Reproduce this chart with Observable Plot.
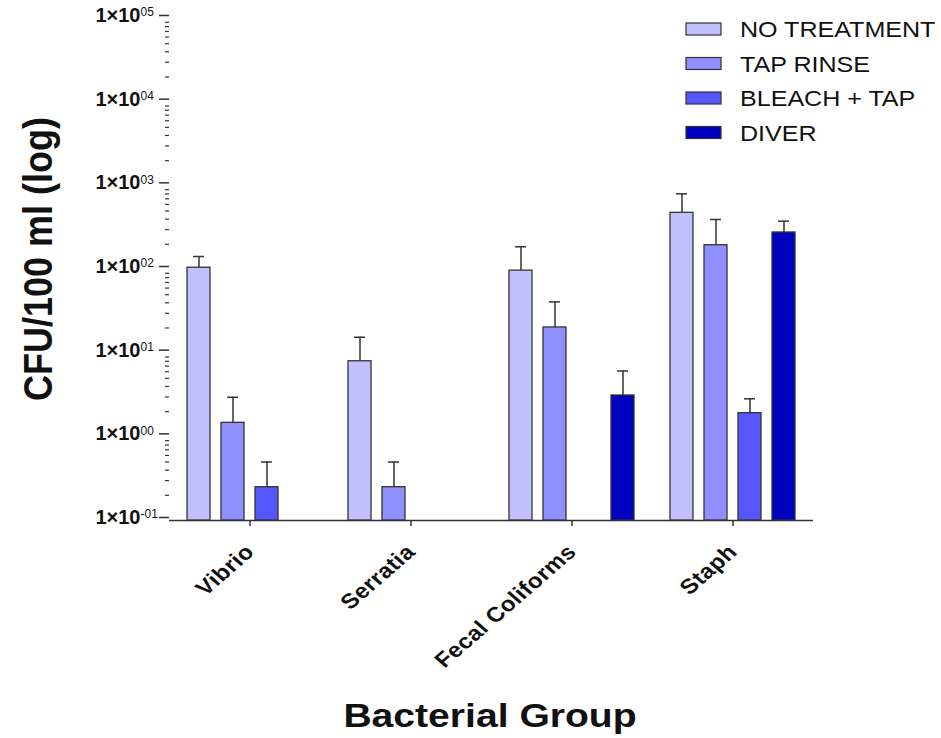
<!DOCTYPE html>
<html>
<head>
<meta charset="utf-8">
<script src="https://cdn.jsdelivr.net/npm/d3@7"></script>
<script src="https://cdn.jsdelivr.net/npm/@observablehq/plot@0.6"></script>
<style>
  body { margin: 0; background: #fff; }
  #wrap { position: relative; width: 941px; height: 738px; font-family: "Liberation Sans", Arial, sans-serif; }
</style>
</head>
<body>
<div id="wrap"></div>
<script>
// ---- data ----
const groups = ["Vibrio", "Serratia", "Fecal Coliforms", "Staph"];
const treatments = ["NO TREATMENT", "TAP RINSE", "BLEACH + TAP", "DIVER"];
const colors = ["#c0c0ff", "#8f8fff", "#5656ff", "#0000c0"];

const noTreatment    = [105, 8.0, 97, 476];
const noTreatmentErr = [38, 7.5, 90, 326];
const tapRinse       = [1.47, 0.25, 20.3, 195];
const tapRinseErr    = [1.5, 0.25, 20.7, 201];
const bleachTap      = [0.25, null, null, 1.92];
const bleachTapErr   = [0.25, null, null, 0.93];
const diver          = [null, null, 3.12, 277];
const diverErr       = [null, null, 3.0, 101];

const decadeTicks = [0.1, 1, 10, 100, 1000, 10000, 100000];
const exponentLabels = ["-01", "00", "01", "02", "03", "04", "05"];

// ---- build table ----
const series = [[noTreatment, noTreatmentErr], [tapRinse, tapRinseErr], [bleachTap, bleachTapErr], [diver, diverErr]];
const rows = [];
treatments.forEach((t, i) => {
  groups.forEach((g, j) => {
    const v = series[i][0][j];
    if (v != null) rows.push({group: g, treatment: t, value: v, err: series[i][1][j]});
  });
});
const expMap = new Map(decadeTicks.map((d, i) => [d, exponentLabels[i]]));
const minorTicks = [];
decadeTicks.slice(0, -1).forEach(d => { for (let k = 2; k <= 9; k++) minorTicks.push(d * k); });

const ink = "#333";
const plot = Plot.plot({
  width: 941,
  height: 738,
  marginLeft: 168,
  marginRight: 127,
  marginTop: 18,
  marginBottom: 218,
  style: {fontFamily: "'Liberation Sans', Arial, sans-serif", background: "white", color: "#111"},
  fx: {domain: groups, padding: 0, label: null},
  x: {domain: treatments, paddingInner: 0.333, paddingOuter: 0.507, axis: null},
  y: {type: "log", domain: [0.1, 1e5], label: null},
  color: {domain: treatments, range: colors},
  marks: [
    Plot.ruleY([0.1], {stroke: ink, strokeWidth: 1.5}),
    Plot.ruleX(rows, {fx: "group", x: "treatment", y1: "value", y2: d => d.value + d.err, stroke: ink, strokeWidth: 1.5}),
    Plot.tickY(rows, {fx: "group", x: "treatment", y: d => d.value + d.err, insetLeft: 6, insetRight: 6, stroke: ink, strokeWidth: 1.5}),
    Plot.barY(rows, {fx: "group", x: "treatment", y1: 0.1, y2: "value", fill: "treatment", stroke: ink, strokeWidth: 1.3}),
    Plot.axisY({ticks: minorTicks, tickSize: 4, tickFormat: () => "", label: null, stroke: ink, strokeWidth: 1.2}),
    Plot.axisY({ticks: decadeTicks, tickSize: 10, tickPadding: 19, tickFormat: () => "1×10", fontSize: 20, fontWeight: "bold", dy: -3, label: null, stroke: ink, strokeWidth: 1.5, line: true}),
    Plot.axisY({ticks: decadeTicks, tickSize: 0, tickPadding: 29, textAnchor: "start", tickFormat: d => expMap.get(d), fontSize: 12, dy: -6, label: null}),
    Plot.axisFx({anchor: "bottom", tickSize: 6, tickRotate: -45, tickPadding: 22, fontSize: 21, fontWeight: "bold", label: null, stroke: ink, strokeWidth: 1.5})
  ]
});

document.getElementById("wrap").appendChild(plot);

// widen the rotated group labels horizontally, as in the reference
d3.select(plot).selectAll("g[aria-label='fx-axis tick label'] text").each(function() {
  const t = this.getAttribute("transform");
  if (t && t.includes("rotate(")) {
    this.setAttribute("transform", t.replace("rotate(", "scale(1.15,1) rotate("));
  }
  this.style.letterSpacing = "0.4px";
});

// ---- titles and legend (layout) ----
const svg = d3.select(plot);
svg.append("text")
  .attr("transform", "translate(490,727) scale(1.15,1)")
  .attr("text-anchor", "middle")
  .style("font-size", "34px").style("font-weight", "bold")
  .attr("fill", "#111")
  .text("Bacterial Group");
svg.append("text")
  .attr("transform", "translate(52,259) scale(1.15,1) rotate(-90)")
  .attr("text-anchor", "middle")
  .style("font-size", "36px").style("font-weight", "bold")
  .attr("fill", "#111")
  .text("CFU/100 ml (log)");

const legend = svg.append("g").attr("transform", "translate(686,23)");
treatments.forEach((t, i) => {
  const g = legend.append("g").attr("transform", `translate(0,${i * 34.5})`);
  g.append("rect").attr("width", 35).attr("height", 12).attr("fill", colors[i]).attr("stroke", ink).attr("stroke-width", 1.2);
  g.append("text").attr("transform", "translate(54,14) scale(1.14,1)")
    .attr("text-anchor", "start")
    .style("font-size", "22px").attr("fill", "#111")
    .text(t);
});
</script>
</body>
</html>
